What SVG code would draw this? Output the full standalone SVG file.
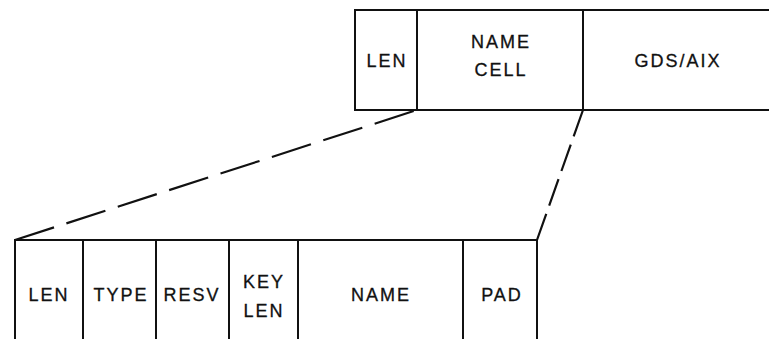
<svg xmlns="http://www.w3.org/2000/svg" width="769" height="339" viewBox="0 0 769 339">
  <style>
    .box { fill: none; stroke: #111; stroke-width: 2; stroke-linecap: square; }
    .lbl { font-family: "Liberation Sans", Arial, sans-serif; font-size: 18px; letter-spacing: 2px; fill: #111; text-anchor: middle; stroke: #111; stroke-width: 0.3; }
    .dash-l { fill: none; stroke: #111; stroke-width: 2.2; stroke-dasharray: 41 13; }
    .dash-r { fill: none; stroke: #111; stroke-width: 2.2; stroke-dasharray: 28 8.7; }
  </style>
  <rect width="769" height="339" fill="#fff"/>

  <!-- Upper record: LEN | NAME CELL | GDS/AIX (open to the right) -->
  <g id="record">
    <path class="box" d="M769,10 H355 V110 H769"/>
    <g id="rec-len">
      <path class="box" d="M417,10 V110"/>
      <text class="lbl" x="387" y="67">LEN</text>
    </g>
    <g id="rec-namecell">
      <path class="box" d="M583,10 V110"/>
      <text class="lbl" x="501" y="48">NAME</text>
      <text class="lbl" x="501" y="76">CELL</text>
    </g>
    <g id="rec-gdsaix">
      <text class="lbl" x="678" y="67">GDS/AIX</text>
    </g>
  </g>

  <!-- Expanded name cell (open at the bottom) -->
  <g id="namecell">
    <path class="box" d="M15,339 V240 H537 V339"/>
    <g id="nc-len">
      <text class="lbl" x="49" y="301">LEN</text>
    </g>
    <g id="nc-type">
      <path class="box" d="M83,240 V339"/>
      <text class="lbl" x="121" y="301">TYPE</text>
    </g>
    <g id="nc-resv">
      <path class="box" d="M156,240 V339"/>
      <text class="lbl" x="192" y="301">RESV</text>
    </g>
    <g id="nc-keylen">
      <path class="box" d="M229,240 V339"/>
      <text class="lbl" x="264" y="288">KEY</text>
      <text class="lbl" x="264" y="317">LEN</text>
    </g>
    <g id="nc-name">
      <path class="box" d="M298,240 V339"/>
      <text class="lbl" x="381" y="301">NAME</text>
    </g>
    <g id="nc-pad">
      <path class="box" d="M463,240 V339"/>
      <text class="lbl" x="502" y="301">PAD</text>
    </g>
  </g>

  <!-- Expansion lines from the NAME CELL field -->
  <g id="connectors">
    <path class="dash-l" d="M15,240 L417,110"/>
    <path class="dash-r" d="M583,110 L537,240"/>
  </g>
</svg>
